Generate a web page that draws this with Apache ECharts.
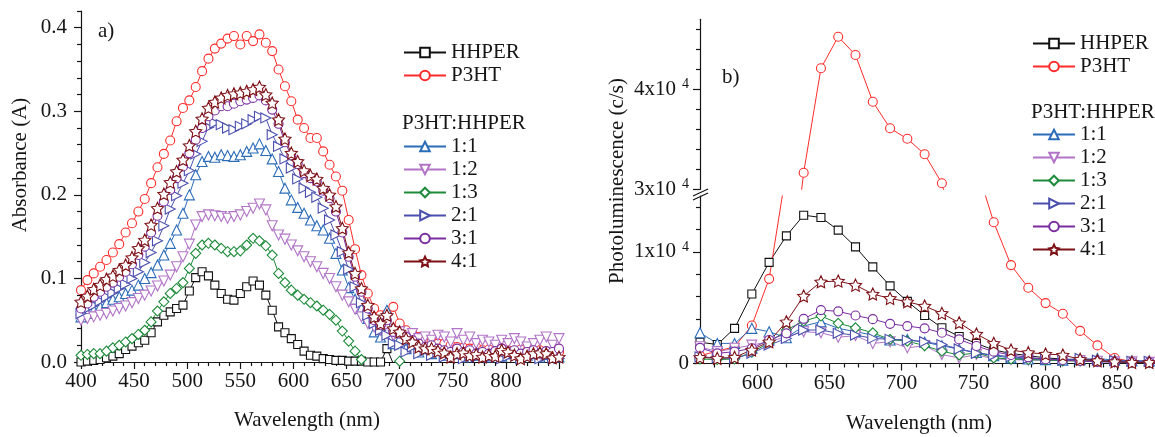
<!DOCTYPE html>
<html>
<head>
<meta charset="utf-8">
<title>Absorbance and photoluminescence of P3HT:HHPER blends</title>
<script src="https://cdn.jsdelivr.net/npm/echarts@6.0.0/dist/echarts.min.js"></script>
<style>
  html, body { margin: 0; padding: 0; background: #fff; }
  #chart { width: 1155px; height: 437px; }
</style>
</head>
<body>
<div id="chart"></div>
<script>
// panel a) absorbance, wavelength grid (nm)
const wlA = [400, 406, 412, 418, 424, 430, 436, 442, 448, 454,
  460, 466, 472, 478, 484, 490, 496, 502, 508, 514,
  520, 526, 532, 538, 544, 550, 556, 562, 568, 574,
  580, 586, 592, 598, 604, 610, 616, 622, 628, 634,
  640, 646, 652, 658, 664, 670, 676, 682, 688, 694,
  700, 706, 712, 718, 724, 730, 736, 742, 748, 754,
  760, 766, 772, 778, 784, 790, 796, 802, 808, 814,
  820, 826, 832, 838, 844, 850];

const absHHPER = [0.000, 0.001, 0.002, 0.003, 0.005, 0.007, 0.010, 0.015, 0.019, 0.023,
  0.026, 0.035, 0.048, 0.056, 0.060, 0.064, 0.068, 0.085, 0.101, 0.108,
  0.103, 0.092, 0.082, 0.075, 0.074, 0.082, 0.090, 0.097, 0.092, 0.080,
  0.062, 0.042, 0.035, 0.028, 0.021, 0.013, 0.008, 0.007, 0.004, 0.003,
  0.002, 0.002, 0.001, 0.001, 0.001, 0.000, 0.000, 0.000, 0.016, -0.002,
  -0.004, -0.004, -0.004, -0.004, -0.004, -0.004, -0.004, -0.004, -0.004, -0.004,
  -0.004, -0.004, -0.004, -0.004, -0.004, -0.004, -0.004, -0.004, -0.004, -0.004,
  -0.004, -0.004, -0.004, -0.004, -0.004, -0.004];
const absP3HT = [0.086, 0.098, 0.106, 0.114, 0.122, 0.131, 0.141, 0.155, 0.166, 0.180,
  0.195, 0.214, 0.233, 0.249, 0.265, 0.288, 0.304, 0.313, 0.329, 0.348,
  0.363, 0.375, 0.381, 0.387, 0.390, 0.380, 0.390, 0.384, 0.392, 0.382,
  0.372, 0.350, 0.330, 0.312, 0.290, 0.280, 0.268, 0.268, 0.252, 0.236,
  0.222, 0.205, 0.170, 0.135, 0.104, 0.082, 0.064, 0.056, 0.058, 0.066,
  0.046, 0.038, 0.034, 0.030, 0.026, 0.025, 0.022, 0.022, 0.020, 0.018,
  0.017, 0.016, 0.018, 0.014, 0.015, 0.013, 0.016, 0.014, 0.012, 0.015,
  0.013, 0.012, 0.014, 0.012, 0.011, 0.012];
const abs11 = [0.054, 0.058, 0.062, 0.066, 0.071, 0.075, 0.078, 0.082, 0.086, 0.092,
  0.100, 0.107, 0.116, 0.128, 0.142, 0.158, 0.178, 0.200, 0.224, 0.240,
  0.246, 0.245, 0.248, 0.247, 0.246, 0.248, 0.252, 0.256, 0.261, 0.253,
  0.243, 0.228, 0.208, 0.194, 0.185, 0.178, 0.170, 0.163, 0.158, 0.148,
  0.130, 0.110, 0.089, 0.075, 0.064, 0.052, 0.036, 0.030, 0.062, 0.022,
  0.028, 0.016, 0.022, 0.012, 0.016, 0.010, 0.014, 0.008, 0.012, 0.010,
  0.006, 0.010, 0.008, 0.012, 0.006, 0.009, 0.007, 0.010, 0.012, 0.006,
  0.008, 0.010, 0.006, 0.009, 0.008, 0.006];
const abs12 = [0.050, 0.052, 0.054, 0.056, 0.058, 0.061, 0.064, 0.067, 0.071, 0.076,
  0.080, 0.085, 0.091, 0.097, 0.104, 0.114, 0.126, 0.141, 0.164, 0.174,
  0.176, 0.175, 0.174, 0.172, 0.174, 0.176, 0.180, 0.184, 0.189, 0.182,
  0.163, 0.152, 0.147, 0.140, 0.133, 0.126, 0.120, 0.114, 0.106, 0.100,
  0.090, 0.080, 0.072, 0.063, 0.054, 0.046, 0.042, 0.038, 0.034, 0.032,
  0.036, 0.030, 0.034, 0.028, 0.030, 0.026, 0.032, 0.030, 0.024, 0.034,
  0.026, 0.030, 0.022, 0.026, 0.024, 0.020, 0.026, 0.022, 0.028, 0.024,
  0.018, 0.022, 0.026, 0.030, 0.020, 0.028];
const abs13 = [0.008, 0.009, 0.010, 0.010, 0.013, 0.017, 0.020, 0.024, 0.028, 0.033,
  0.038, 0.048, 0.061, 0.072, 0.082, 0.088, 0.095, 0.112, 0.130, 0.140,
  0.142, 0.140, 0.136, 0.132, 0.132, 0.133, 0.140, 0.148, 0.145, 0.139,
  0.128, 0.106, 0.095, 0.086, 0.080, 0.075, 0.071, 0.067, 0.062, 0.057,
  0.050, 0.037, 0.025, 0.013, 0.003, -0.004, -0.004, -0.004, -0.004, -0.004,
  0.001, -0.004, -0.004, -0.004, -0.004, -0.004, -0.004, -0.004, -0.004, -0.004,
  -0.004, -0.004, -0.004, -0.004, -0.004, -0.004, -0.004, -0.004, -0.004, -0.004,
  -0.004, -0.004, -0.004, -0.004, -0.004, -0.004];
const abs21 = [0.058, 0.064, 0.068, 0.073, 0.078, 0.083, 0.088, 0.093, 0.100, 0.108,
  0.119, 0.131, 0.145, 0.163, 0.183, 0.199, 0.214, 0.229, 0.249, 0.264,
  0.281, 0.286, 0.284, 0.280, 0.278, 0.282, 0.285, 0.290, 0.294, 0.292,
  0.272, 0.258, 0.243, 0.232, 0.219, 0.208, 0.203, 0.197, 0.184, 0.170,
  0.152, 0.132, 0.111, 0.090, 0.071, 0.056, 0.046, 0.038, 0.032, 0.022,
  0.020, 0.012, 0.018, 0.010, 0.014, 0.008, 0.012, 0.006, 0.010, 0.008,
  0.004, 0.008, 0.006, 0.010, 0.005, 0.008, 0.004, 0.007, 0.010, 0.004,
  0.006, 0.008, 0.004, 0.007, 0.005, 0.004];
const abs31 = [0.064, 0.070, 0.078, 0.084, 0.090, 0.095, 0.102, 0.108, 0.117, 0.128,
  0.138, 0.155, 0.175, 0.192, 0.206, 0.220, 0.234, 0.250, 0.266, 0.280,
  0.294, 0.301, 0.306, 0.306, 0.309, 0.312, 0.314, 0.316, 0.319, 0.313,
  0.302, 0.285, 0.263, 0.247, 0.237, 0.226, 0.220, 0.216, 0.205, 0.196,
  0.180, 0.155, 0.126, 0.102, 0.084, 0.064, 0.050, 0.044, 0.050, 0.036,
  0.034, 0.030, 0.026, 0.022, 0.018, 0.020, 0.016, 0.014, 0.012, 0.016,
  0.012, 0.014, 0.010, 0.012, 0.010, 0.013, 0.016, 0.012, 0.014, 0.010,
  0.012, 0.014, 0.010, 0.013, 0.012, 0.016];
const abs41 = [0.072, 0.079, 0.087, 0.092, 0.099, 0.103, 0.110, 0.116, 0.125, 0.136,
  0.146, 0.164, 0.184, 0.201, 0.215, 0.228, 0.242, 0.259, 0.276, 0.291,
  0.304, 0.311, 0.316, 0.319, 0.321, 0.322, 0.324, 0.326, 0.329, 0.320,
  0.310, 0.290, 0.267, 0.250, 0.240, 0.229, 0.223, 0.219, 0.208, 0.200,
  0.186, 0.160, 0.131, 0.106, 0.088, 0.068, 0.054, 0.046, 0.056, 0.040,
  0.036, 0.028, 0.024, 0.018, 0.016, 0.016, 0.013, 0.011, 0.006, 0.010,
  0.011, 0.008, 0.009, 0.006, 0.008, 0.007, 0.014, 0.012, 0.008, 0.004,
  0.007, 0.010, 0.011, 0.010, 0.005, 0.006];

// panel b) photoluminescence (c/s)
const wlB = [560, 572, 584, 596, 608, 620, 632, 644, 656, 668,
  680, 692, 704, 716, 728, 740, 752, 764, 776, 788,
  800, 812, 824, 836, 848, 860, 872];

const plHHPER = [1900, 1700, 3150, 6220, 9060, 11430, 13280, 13080, 11940, 10440,
  8650, 6950, 5560, 4300, 3200, 2420, 1800, 1210, 900, 700,
  500, 400, 330, 260, 200, 150, 100];
const plP3HT = [700, 1100, 1500, 3400, 7580, 17300, 31660, 42100, 45260, 43430,
  38760, 36100, 35050, 33500, 30600, 24000, 17620, 12650, 8810, 6780,
  5410, 4460, 2920, 1620, 490, 160, 100];
const pl11 = [2750, 1800, 1800, 3150, 2850, 2300, 3350, 3740, 3150, 2850,
  2550, 2100, 2150, 1900, 1600, 1270, 1000, 700, 500, 400,
  350, 300, 350, 450, 300, 250, 250];
const pl12 = [1500, 1060, 1360, 1650, 1950, 2400, 2850, 2750, 2350, 2500,
  1800, 1950, 1400, 1600, 800, 500, 800, 400, 350, 300,
  300, 250, 250, 200, 150, 150, 100];
const pl13 = [400, 350, 400, 1000, 1860, 3000, 3800, 4250, 3600, 3200,
  2750, 2150, 2000, 1600, 1100, 760, 950, 500, 400, 350,
  300, 250, 220, 200, 150, 120, 100];
const pl21 = [600, 500, 460, 910, 1650, 2250, 3000, 3000, 2700, 2550,
  2250, 2160, 2100, 1950, 1700, 1300, 910, 760, 610, 460,
  400, 310, 450, 300, 250, 200, 200];
const pl31 = [1400, 910, 1060, 1360, 2100, 2700, 4000, 4780, 4670, 4300,
  3970, 3550, 3350, 3150, 2750, 2160, 1570, 1060, 760, 550,
  380, 310, 220, 150, 120, 100, 100];
const pl41 = [550, 460, 550, 1210, 1950, 3740, 6040, 7320, 7380, 7020,
  6220, 5830, 5530, 5140, 4490, 3650, 2640, 1810, 1210, 970,
  850, 760, 380, 250, 160, 100, 100];

const FONT = '"Liberation Serif", "Times New Roman", serif';
const FS = 21;
const INK = '#151515';
// hollow five-point star
const STAR = 'path://M50,0 L64.7,29.8 L97.6,34.5 L73.8,57.7 L79.4,90.5 L50,75 L20.6,90.5 L26.2,57.7 L2.4,34.5 L35.3,29.8 Z';

const look = {
  'HHPER': { color: '#111111', symbol: 'rect', size: 8, rotate: 0 },
  'P3HT': { color: '#ff2b2b', symbol: 'circle', size: 9, rotate: 0 },
  '1:1': { color: '#2b6cb8', symbol: 'triangle', size: 10, rotate: 0 },
  '1:2': { color: '#b174c6', symbol: 'triangle', size: 10, rotate: 180 },
  '1:3': { color: '#1d8b3a', symbol: 'diamond', size: 10, rotate: 0 },
  '2:1': { color: '#4a4fae', symbol: 'triangle', size: 10, rotate: -90 },
  '3:1': { color: '#7a2da0', symbol: 'circle', size: 9, rotate: 0 },
  '4:1': { color: '#7d1015', symbol: STAR, size: 12, rotate: 0 }
};

function pairs(xs, ys) {
  return xs.map((x, i) => [x, ys[i]]);
}

function lineSeries(name, xs, ys, xi, yi) {
  const s = look[name];
  return {
    name: name,
    type: 'line',
    xAxisIndex: xi,
    yAxisIndex: yi,
    data: pairs(xs, ys),
    symbol: s.symbol,
    symbolSize: s.size,
    symbolRotate: s.rotate,
    showAllSymbol: true,
    clip: true,
    lineStyle: { color: s.color, width: 1 },
    itemStyle: { color: '#fff', borderColor: s.color, borderWidth: 1.1 },
    emphasis: { disabled: true }
  };
}

const axisLineStyle = { color: INK, width: 1.2 };
const labelStyle = { fontSize: FS, fontFamily: FONT, color: INK };

function minorAxis(grid, pos, min, max, ticks) {
  return {
    type: 'value', gridIndex: grid, position: pos, min: min, max: max,
    axisLine: { show: false },
    axisLabel: { show: false },
    splitLine: { show: false },
    axisTick: { show: true, length: 4, customValues: ticks, lineStyle: axisLineStyle }
  };
}

const legendText = { fontSize: FS, fontFamily: FONT, color: INK, lineHeight: 21 };
function legend(names, left, top) {
  return {
    data: names, orient: 'vertical', left: left, top: top, padding: 0,
    itemWidth: 42, itemHeight: 12, itemGap: 2, selectedMode: false,
    textStyle: legendText
  };
}

const supRich = { s: { fontSize: 14, fontFamily: FONT, color: INK, padding: [0, 0, 10, 6] } };
const sciLabel = v => (v === 0 ? '0' : (v / 10000) + 'x10{s|4}');

function label(text, x, y, extra) {
  return Object.assign({
    type: 'text', x: x, y: y,
    style: { text: text, fontSize: FS, fontFamily: FONT, fill: INK, verticalAlign: 'middle',
      align: extra && extra.align ? extra.align : 'left' }
  }, extra && extra.rotation ? { rotation: extra.rotation } : {});
}

const chart = echarts.init(document.getElementById('chart'));

chart.setOption({
  animation: false,
  backgroundColor: '#fff',
  grid: [
    { left: 81, top: 11, width: 478, height: 351 },
    { left: 700, top: 196, width: 455, height: 167.5 },
    { left: 700, top: 19.3, width: 455, height: 170 }
  ],
  xAxis: [
    {
      type: 'value', gridIndex: 0, position: 'bottom', min: 400, max: 850, interval: 50,
      axisLine: { lineStyle: axisLineStyle },
      axisTick: { length: 7, lineStyle: axisLineStyle },
      minorTick: { show: true, splitNumber: 5, length: 4, lineStyle: axisLineStyle },
      splitLine: { show: false },
      axisLabel: Object.assign({ margin: 9, showMaxLabel: false }, labelStyle)
    },
    {
      type: 'value', gridIndex: 1, position: 'bottom', min: 560, max: 876,
      axisLine: { lineStyle: axisLineStyle },
      axisTick: { length: 7, customValues: [600, 650, 700, 750, 800, 850], lineStyle: axisLineStyle },
      splitLine: { show: false },
      axisLabel: Object.assign({ margin: 9, customValues: [600, 650, 700, 750, 800, 850] }, labelStyle)
    },
    minorAxis(1, 'bottom', 560, 876,
      [570, 580, 590, 610, 620, 630, 640, 660, 670, 680, 690, 710, 720, 730, 740,
       760, 770, 780, 790, 810, 820, 830, 840, 860, 870]),
    { type: 'value', gridIndex: 2, min: 560, max: 876, show: false }
  ],
  yAxis: [
    {
      type: 'value', gridIndex: 0, position: 'left', min: 0, max: 0.42,
      axisLine: { show: true, lineStyle: axisLineStyle },
      axisTick: { show: true, length: 7, customValues: [0, 0.1, 0.2, 0.3, 0.4], lineStyle: axisLineStyle },
      splitLine: { show: false },
      axisLabel: Object.assign({ margin: 14, customValues: [0, 0.1, 0.2, 0.3, 0.4],
        formatter: v => v.toFixed(1) }, labelStyle)
    },
    minorAxis(0, 'left', 0, 0.42,
      [0.02, 0.04, 0.06, 0.08, 0.12, 0.14, 0.16, 0.18, 0.22, 0.24, 0.26, 0.28,
       0.32, 0.34, 0.36, 0.38, 0.42]),
    {
      type: 'value', gridIndex: 1, position: 'left', min: 0, max: 15000,
      axisLine: { show: true, lineStyle: axisLineStyle },
      axisTick: { show: true, length: 7, customValues: [0, 10000], lineStyle: axisLineStyle },
      splitLine: { show: false },
      axisLabel: Object.assign({ margin: 11, customValues: [0, 10000],
        formatter: sciLabel, rich: supRich }, labelStyle)
    },
    minorAxis(1, 'left', 0, 15000, [2000, 4000, 6000, 8000, 12000, 14000]),
    {
      type: 'value', gridIndex: 2, position: 'left', min: 30000, max: 47000,
      axisLine: { show: true, lineStyle: axisLineStyle },
      axisTick: { show: true, length: 7, customValues: [30000, 40000], lineStyle: axisLineStyle },
      splitLine: { show: false },
      axisLabel: Object.assign({ margin: 11, customValues: [30000, 40000],
        formatter: sciLabel, rich: supRich }, labelStyle)
    },
    minorAxis(2, 'left', 30000, 47000, [32000, 34000, 36000, 38000, 42000, 44000, 46000])
  ],
  legend: [
    legend(['HHPER', 'P3HT'], 403, 42),
    legend(['1:1', '1:2', '1:3', '2:1', '3:1', '4:1'], 403, 136),
    legend(['HHPER', 'P3HT'], 1032, 33),
    legend(['1:1', '1:2', '1:3', '2:1', '3:1', '4:1'], 1032, 124)
  ],
  graphic: [
    label('a)', 98, 31),
    label('b)', 722, 77),
    label('P3HT:HHPER', 402, 123),
    label('P3HT:HHPER', 1031, 112),
    label('Absorbance (A)', 20, 165, { align: 'center', rotation: Math.PI / 2 }),
    label('Photoluminescence (c/s)', 617, 181, { align: 'center', rotation: Math.PI / 2 }),
    label('Wavelength (nm)', 307, 420, { align: 'center' }),
    label('Wavelength (nm)', 919, 423, { align: 'center' }),
    // axis break marks on the PL axis
    { type: 'line', shape: { x1: 693, y1: 196, x2: 708, y2: 189 }, style: { stroke: INK, lineWidth: 1.2 } },
    { type: 'line', shape: { x1: 693, y1: 200, x2: 708, y2: 193 }, style: { stroke: INK, lineWidth: 1.2 } }
  ],
  series: [
    lineSeries('HHPER', wlA, absHHPER, 0, 0),
    lineSeries('P3HT', wlA, absP3HT, 0, 0),
    lineSeries('1:1', wlA, abs11, 0, 0),
    lineSeries('1:2', wlA, abs12, 0, 0),
    lineSeries('1:3', wlA, abs13, 0, 0),
    lineSeries('2:1', wlA, abs21, 0, 0),
    lineSeries('3:1', wlA, abs31, 0, 0),
    lineSeries('4:1', wlA, abs41, 0, 0),

    lineSeries('HHPER', wlB, plHHPER, 1, 2),
    lineSeries('P3HT', wlB, plP3HT, 1, 2),
    lineSeries('1:1', wlB, pl11, 1, 2),
    lineSeries('1:2', wlB, pl12, 1, 2),
    lineSeries('1:3', wlB, pl13, 1, 2),
    lineSeries('2:1', wlB, pl21, 1, 2),
    lineSeries('3:1', wlB, pl31, 1, 2),
    lineSeries('4:1', wlB, pl41, 1, 2),
    // upper segment above the axis break
    lineSeries('P3HT', wlB, plP3HT, 3, 4)
  ]
});
</script>
</body>
</html>
